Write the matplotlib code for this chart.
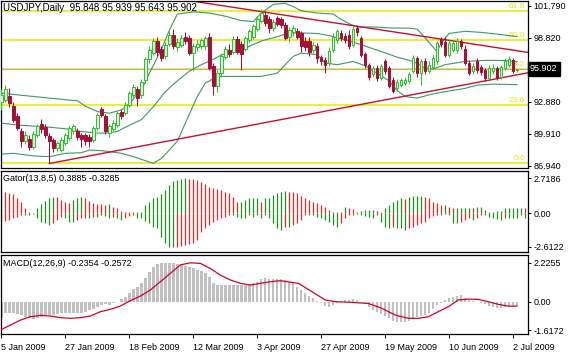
import numpy as np
import matplotlib
matplotlib.use("Agg")
import matplotlib.pyplot as plt
from matplotlib.transforms import blended_transform_factory

plt.rcParams['font.family'] = ['Liberation Sans', 'DejaVu Sans']

# daily candles, bar 0 = 5 Jan 2009
opens = [92.8, 93.0, 93.4, 92.5, 91.5, 90.1, 89.2, 89.4, 88.7, 89.8,
         90.8, 90.5, 89.7, 89.3, 88.6, 88.4, 89.0, 89.5, 90.1, 90.1,
         89.8, 89.8, 89.6, 89.3, 90.4, 92.2, 91.5, 90.0, 90.3, 90.7,
         91.9, 91.8, 92.6, 93.5, 94.0, 93.5, 94.9, 96.8, 97.4, 98.5,
         97.8, 97.1, 98.2, 99.1, 97.9, 98.1, 98.9, 98.8, 97.4, 97.9,
         98.0, 98.0, 98.9, 96.2, 94.3, 95.5, 97.0, 97.7, 97.5, 98.7,
         98.2, 97.8, 98.6, 98.9, 99.6, 100.4, 100.9, 100.5, 99.7, 100.6,
         100.5, 100.0, 98.9, 99.3, 99.4, 99.2, 98.5, 98.5, 97.7, 98.0,
         97.0, 96.7, 96.5, 97.7, 98.6, 99.2, 99.0, 99.1, 98.1, 99.7,
         98.8, 97.3, 96.3, 95.4, 96.0, 95.1, 96.6, 96.0, 94.9, 94.1,
         94.4, 94.6, 94.8, 95.7, 96.9, 95.5, 96.6, 95.7, 96.1, 96.6,
         98.7, 98.4, 97.2, 97.7, 97.7, 98.5, 97.8, 96.5, 95.7, 96.6,
         96.1, 95.8, 95.1, 95.7, 96.0, 95.2, 96.0, 96.3, 96.7, 95.848]
highs = [94.0, 94.4, 94.1, 92.8, 91.8, 90.4, 90.1, 89.8, 90.1, 90.8,
         91.3, 90.8, 90.0, 89.5, 89.2, 89.6, 90.0, 90.6, 90.8, 90.4,
         90.0, 90.0, 89.9, 90.6, 91.8, 92.4, 91.7, 90.8, 91.2, 92.0,
         92.2, 92.8, 93.9, 94.5, 94.3, 95.0, 97.0, 98.0, 98.8, 98.9,
         98.0, 98.4, 99.4, 99.6, 98.8, 99.1, 99.3, 99.1, 98.3, 98.6,
         98.8, 99.0, 99.2, 96.5, 95.8, 97.4, 98.0, 98.2, 99.0, 99.0,
         98.5, 99.0, 99.6, 100.1, 100.8, 101.44, 101.3, 100.8, 100.5, 100.8,
         100.7, 100.3, 99.8, 100.0, 99.7, 99.4, 98.9, 98.9, 98.4, 98.3,
         97.2, 97.0, 97.9, 99.2, 99.6, 99.5, 99.2, 99.5, 99.9, 100.0,
         99.0, 97.5, 96.5, 96.2, 96.3, 96.4, 96.8, 96.2, 95.2, 95.0,
         95.1, 95.2, 95.6, 97.2, 97.1, 96.8, 96.9, 96.6, 97.2, 98.5,
         98.9, 98.9, 98.6, 98.6, 98.8, 98.7, 98.1, 96.7, 96.5, 96.9,
         96.3, 96.0, 96.3, 96.4, 96.2, 96.3, 96.9, 97.1, 96.9, 95.939]
lows = [92.1, 92.8, 92.4, 91.0, 90.2, 88.7, 88.9, 88.4, 88.5, 89.6,
        90.0, 89.5, 87.13, 88.2, 88.3, 88.2, 88.8, 89.3, 89.9, 89.3,
        88.7, 88.8, 88.7, 89.1, 90.2, 91.4, 89.9, 89.6, 90.1, 90.5,
        91.3, 91.6, 92.4, 93.3, 92.5, 93.2, 94.6, 96.5, 97.2, 97.1,
        96.6, 96.8, 98.0, 97.8, 97.6, 97.9, 98.2, 97.2, 95.7, 97.6,
        97.8, 97.7, 95.8, 93.5, 93.8, 95.2, 96.8, 97.0, 97.3, 97.3,
        95.8, 97.6, 98.4, 98.7, 99.4, 100.2, 99.9, 99.2, 99.4, 99.9,
        99.7, 98.6, 98.4, 99.0, 98.7, 97.5, 97.6, 97.1, 97.4, 96.5,
        96.3, 95.5, 96.2, 97.5, 98.3, 98.5, 98.3, 97.8, 97.9, 99.0,
        97.0, 96.0, 94.9, 95.2, 94.8, 94.9, 95.4, 94.1, 93.7, 93.9,
        94.2, 94.4, 94.6, 95.5, 95.2, 94.4, 95.4, 95.5, 95.9, 96.4,
        97.9, 97.0, 97.0, 97.5, 97.4, 97.8, 96.3, 95.3, 95.4, 95.5,
        95.3, 94.8, 94.9, 95.4, 94.9, 95.0, 95.8, 96.1, 95.5, 95.643]
closes = [93.5, 94.0, 92.7, 91.2, 90.4, 89.2, 89.8, 88.7, 89.9, 90.6,
          90.3, 89.8, 89.2, 88.6, 89.0, 89.3, 89.8, 90.4, 90.6, 89.6,
          89.4, 89.2, 89.2, 90.4, 91.6, 91.6, 90.1, 90.6, 90.9, 91.8,
          91.5, 92.6, 93.7, 94.2, 93.2, 94.7, 96.8, 97.7, 98.5, 97.5,
          96.9, 98.1, 99.1, 98.0, 98.4, 98.8, 98.5, 97.4, 98.0, 98.2,
          98.6, 98.8, 96.0, 94.3, 95.5, 97.1, 97.8, 97.3, 98.7, 97.5,
          97.3, 98.8, 99.4, 99.9, 100.5, 101.1, 100.2, 99.7, 100.3, 100.1,
          100.0, 98.8, 99.5, 99.7, 98.9, 98.0, 97.9, 97.5, 98.1, 96.9,
          96.6, 96.3, 97.6, 98.9, 99.4, 98.8, 98.6, 98.0, 99.6, 99.3,
          97.2, 96.3, 95.2, 96.0, 95.1, 96.2, 95.7, 94.3, 93.9, 94.7,
          94.9, 94.9, 95.4, 96.9, 95.5, 96.6, 95.7, 96.3, 96.9, 98.3,
          98.2, 97.2, 98.3, 98.3, 98.5, 98.0, 96.5, 95.5, 96.2, 95.8,
          95.6, 95.1, 96.0, 96.0, 95.1, 96.1, 96.6, 96.8, 95.7, 95.902]

# bollinger bands (bar, price)
bb_up_x = [0, 4, 8, 12, 16, 19, 21, 24, 27, 30, 32, 35, 37, 40, 42, 44, 48, 52, 56, 60, 63, 65, 68, 71, 73,
           75, 79, 83, 85, 87, 89, 93, 98, 102, 104, 106, 109, 110, 112, 116, 120, 125, 129]
bb_up_y = [93.66, 93.5, 93.35, 93.2, 93.05, 92.95, 92.45, 91.95, 91.8, 92.1, 92.7, 93.95, 95.5, 97.7, 99.5,
           101.0, 101.2, 101.1, 100.8, 100.4, 100.3, 101.1, 101.9, 102.0, 101.7, 101.3, 101.1, 101.0, 100.5,
           100.1, 99.8, 99.8, 99.7, 99.7, 99.6, 98.8, 97.5, 98.3, 99.2, 99.4, 99.3, 99.1, 98.9]
bb_mid_x = [0, 4, 8, 12, 16, 20, 24, 26, 29, 31, 35, 38, 41, 44, 47, 50, 53, 55, 59, 62, 65, 69, 72, 75, 79,
            82, 85, 88, 92, 96, 99, 103, 106, 108, 111, 116, 121, 125, 129]
bb_mid_y = [90.87, 90.7, 90.6, 90.5, 90.35, 90.1, 89.95, 89.95, 90.1, 90.5, 91.2, 92.4, 93.8, 94.8, 95.7,
            96.3, 96.8, 97.2, 97.7, 98.0, 98.5, 98.9, 99.25, 99.25, 99.2, 99.0, 98.7, 98.4, 97.9, 97.4,
            97.0, 96.6, 96.0, 95.9, 96.3, 96.6, 96.7, 96.7, 96.6]
bb_lo_x = [0, 3, 8, 12, 16, 20, 22, 25, 27, 30, 33, 36, 38, 40, 42, 44, 46, 49, 51, 54, 60, 65, 69, 71, 73,
           75, 79, 81, 84, 88, 91, 94, 97, 99, 101, 104, 107, 111, 116, 119, 123, 129]
bb_lo_y = [88.0, 88.07, 87.83, 87.76, 88.07, 88.13, 88.38, 88.32, 88.23, 88.07, 87.76, 87.39, 87.14, 87.6,
           88.38, 89.2, 90.87, 93.35, 94.59, 95.21, 95.21, 95.21, 95.52, 96.3, 97.07, 97.38, 97.23, 96.45,
           96.3, 96.6, 96.2, 95.5, 94.8, 93.9, 93.35, 93.2, 93.5, 93.8, 94.1, 94.4, 94.5, 94.45]

# trend lines (bar, price)
trend_hi_x = [44, 131.75]
trend_hi_y = [102.42, 97.44]
trend_lo_x = [12, 131.75]
trend_lo_y = [87.13, 95.55]

fib_levels = [87.14, 92.535, 95.87, 98.57, 101.27]
fib_names = ["0.0", "23.6", "38.2", "50.0", "61.8"]
last_price = 95.902

# gator oscillator
gator_up = [1.82, 1.69, 1.61, 1.48, 1.17, 0.91, 0.44, 0.13, 0.02, 0.39, 0.70, 0.96, 1.22, 1.30, 1.27, 1.04,
            0.91, 0.78, 1.04, 1.17, 1.30, 1.17, 0.96, 0.83, 0.73, 0.70, 0.65, 0.70, 0.52, 0.39, 0.18, 0.13,
            0.08, 0.13, 0.08, 0.13, 0.65, 0.91, 1.17, 1.30, 1.48, 1.82, 2.21, 2.55, 2.62, 2.68, 2.7186, 2.70,
            2.66, 2.60, 2.45, 2.26, 2.08, 1.95, 1.90, 1.82, 1.69, 1.56, 1.30, 0.91, 0.91, 1.04, 1.17, 1.17,
            1.17, 0.91, 1.17, 1.22, 1.43, 1.56, 1.69, 1.74, 1.69, 1.64, 1.56, 1.38, 1.17, 1.04, 0.91, 0.78,
            0.65, 0.52, 0.26, 0.13, 0.13, 0.13, 0.52, 0.44, 0.34, 0.13, 0.18, 0.26, 0.26, 0.26, 0.18, 0.13,
            0.39, 0.65, 0.91, 1.04, 1.17, 1.09, 1.30, 1.38, 1.38, 1.38, 1.30, 1.17, 0.91, 0.78, 0.65, 0.65,
            0.52, 0.44, 0.44, 0.44, 0.44, 0.44, 0.39, 0.52, 0.52, 0.26, 0.13, 0.13, 0.18, 0.18, 0.39, 0.39,
            0.39, 0.39, 0.44, 0.3885]
gator_dn = [-0.65, -0.60, -0.52, -0.39, -0.26, -0.13, -0.13, -0.13, -0.08, -0.39, -0.65, -0.78, -0.91,
            -0.78, -0.52, -0.26, -0.39, -0.65, -0.70, -0.52, -0.39, -0.34, -0.39, -0.26, -0.26, -0.13,
            -0.18, -0.34, -0.26, -0.39, -0.52, -0.39, -0.18, -0.13, -0.34, -0.39, -0.60, -0.78, -1.04,
            -1.17, -1.82, -2.34, -2.60, -2.6122, -2.60, -2.52, -2.47, -2.42, -2.34, -2.08, -1.43, -1.17,
            -0.91, -0.70, -0.52, -0.39, -0.26, -0.13, -0.13, -0.26, -0.39, -0.39, -0.13, -0.26, -0.13,
            -0.34, -0.13, -0.39, -0.78, -1.17, -1.30, -1.04, -1.04, -0.91, -0.78, -0.52, -0.13, -0.13,
            -0.13, -0.26, -0.39, -0.52, -0.65, -0.91, -1.04, -0.78, -0.39, -0.13, -0.13, -0.08, -0.13,
            -0.18, -0.26, -0.34, -0.13, -0.65, -1.04, -1.17, -1.04, -1.17, -1.17, -1.30, -1.17, -1.04,
            -0.91, -0.78, -0.65, -0.39, -0.18, -0.13, -0.13, -0.08, -0.13, -0.78, -0.78, -0.65, -0.52,
            -0.39, -0.52, -0.39, -0.13, -0.13, -0.26, -0.39, -0.44, -0.52, -0.39, -0.39, -0.39, -0.39,
            -0.13, -0.3285]

# MACD main (histogram) and signal line
macd_main = [-0.95, -0.67, -0.63, -0.67, -0.70, -0.76, -0.86, -0.95, -1.01, -0.95, -0.86, -0.76, -0.76,
             -0.76, -0.72, -0.67, -0.67, -0.63, -0.63, -0.67, -0.63, -0.57, -0.48, -0.44, -0.29, -0.19,
             -0.13, -0.19, -0.10, 0.0, 0.13, 0.29, 0.48, 0.70, 0.86, 1.05, 1.33, 1.71, 2.0, 2.15, 2.2255,
             2.22, 2.22, 2.19, 2.15, 2.10, 2.04, 1.96, 1.90, 1.81, 1.77, 1.66, 1.43, 1.09, 0.95, 0.95, 0.95,
             0.95, 0.97, 0.97, 0.93, 0.93, 0.99, 1.05, 1.14, 1.28, 1.35, 1.31, 1.31, 1.31, 1.28, 1.24, 1.14,
             1.05, 0.86, 0.67, 0.51, 0.32, 0.19, 0.06, -0.10, -0.25, -0.29, -0.19, -0.06, 0.06, 0.10, 0.10,
             0.13, 0.10, 0.0, -0.13, -0.32, -0.48, -0.57, -0.70, -0.82, -0.95, -1.09, -1.14, -1.14, -1.14,
             -1.09, -0.95, -0.86, -0.82, -0.76, -0.67, -0.44, -0.19, -0.06, 0.10, 0.19, 0.25, 0.32, 0.38,
             0.19, 0.10, 0.06, 0.0, -0.06, -0.13, -0.25, -0.32, -0.38, -0.38, -0.32, -0.29, -0.25, -0.2354]
sig_x = [-0.25, 2.25, 4.75, 7.25, 9.75, 12.25, 14.75, 17.25, 19.75, 22.25, 24.75, 27.25, 29.75, 32.25,
         34.75, 37.25, 39.75, 42.25, 44.75, 47.25, 49.75, 52.25, 54.75, 57.25, 59.75, 62.25, 64.75, 67.25,
         69.75, 74.3, 77.7, 81, 83.5, 87.7, 91.8, 95.2, 98.5, 101.8, 104.3, 106.8, 109.3, 111.8, 114.3,
         116.8, 119.3, 121.8, 124.3, 126.8, 129]
sig_y = [-1.6172, -1.33, -1.05, -0.86, -0.78, -0.82, -0.91, -0.95, -0.91, -0.82, -0.57, -0.44, -0.25, 0.06,
         0.32, 0.67, 1.14, 1.62, 2.10, 2.22, 2.19, 1.90, 1.52, 1.24, 1.05, 0.95, 1.05, 1.14, 1.20, 1.05, 0.57,
         0.10, 0.0, -0.04, -0.10, -0.38, -0.76, -0.95, -0.95, -0.86, -0.57, -0.29, 0.10, 0.15, 0.13, 0.0,
         -0.15, -0.25, -0.2572]

date_pos = [0, 16, 32, 48, 64, 80, 96, 112, 128]
date_labels = ["5 Jan 2009", "27 Jan 2009", "18 Feb 2009", "12 Mar 2009", "3 Apr 2009",
               "27 Apr 2009", "19 May 2009", "10 Jun 2009", "2 Jul 2009"]

GREEN = "#2ec22e"
RED = "#a8103a"
BAND = "#3c9a62"
TREND = "#c8102e"
FIB = "#e8e800"

W, H = 570, 354
fig = plt.figure(figsize=(W / 100, H / 100), dpi=100)


def pane(y0, y1):
    a = fig.add_axes([0.5 / W, 1 - y1 / H, 527.5 / W, (y1 - y0) / H])
    for s in a.spines.values():
        s.set_linewidth(0.9)
        s.set_color("black")
    a.set_xlim(-0.25, 131.75)
    a.yaxis.tick_right()
    a.tick_params(axis="y", length=2.5, width=0.7, pad=1.5, labelsize=6.5)
    a.tick_params(axis="x", length=0)
    a.set_xticks([])
    return a


ax = pane(0.5, 168)
gx = pane(171, 252)
mx = pane(255, 334)

# ---- price pane
o = np.array(opens); h = np.array(highs); l = np.array(lows); c = np.array(closes)
idx = np.arange(len(c))
bull = c >= o

for lev, name in zip(fib_levels, fib_names):
    ax.axhline(lev, color=FIB, lw=1.1, zorder=1)
    ax.text(131.0, lev + 0.12, name, color=FIB, fontsize=6, ha="right", va="bottom", zorder=1)
ax.axhline(last_price, color="#b0b0b0", lw=0.8, zorder=1)

ax.plot(bb_up_x, bb_up_y, color=BAND, lw=0.8, zorder=2)
ax.plot(bb_mid_x, bb_mid_y, color=BAND, lw=0.8, zorder=2)
ax.plot(bb_lo_x, bb_lo_y, color=BAND, lw=0.8, zorder=2)
ax.plot(trend_hi_x, trend_hi_y, color=TREND, lw=1.0, zorder=2)
ax.plot(trend_lo_x, trend_lo_y, color=TREND, lw=1.0, zorder=2)

ax.vlines(idx[bull], l[bull], h[bull], color=GREEN, lw=0.75, zorder=3)
ax.vlines(idx[~bull], l[~bull], h[~bull], color=RED, lw=0.75, zorder=3)
ax.bar(idx[bull], np.maximum(c[bull] - o[bull], 0.05), bottom=o[bull], width=0.65,
       facecolor="#e8ffe8", edgecolor=GREEN, lw=0.75, zorder=4)
ax.bar(idx[~bull], o[~bull] - c[~bull], bottom=c[~bull], width=0.65,
       facecolor=RED, edgecolor=RED, lw=0.75, zorder=4)

ax.set_ylim(86.71, 102.26)
ax.set_yticks([101.79, 98.82, 92.88, 89.91, 86.94])
ax.set_yticklabels(["101.790", "98.820", "92.880", "89.910", "86.940"])
tr = blended_transform_factory(ax.transAxes, ax.transData)
ax.text(1.004, last_price, "95.902", transform=tr, fontsize=6.5, color="white", ha="left", va="center",
        bbox=dict(facecolor="black", edgecolor="black", pad=1.6))
ax.text(0.004, 0.985, "USDJPY,Daily  95.848 95.939 95.643 95.902", transform=ax.transAxes,
        fontsize=7, va="top", ha="left")

# ---- gator pane
gu = np.array(gator_up); gd = np.array(gator_dn)
gk = np.arange(len(gu))
up_col = ["#1d931d" if k == 0 or gu[k] >= gu[k - 1] else "#e02828" for k in gk]
dn_col = ["#1d931d" if k == 0 or gd[k] <= gd[k - 1] else "#e02828" for k in gk]
gx.vlines(gk, 0, gu, colors=up_col, lw=0.9)
gx.vlines(gk, gd, 0, colors=dn_col, lw=0.9)
gx.set_ylim(-3.02, 3.30)
gx.set_yticks([2.7186, 0, -2.6122])
gx.set_yticklabels(["2.7186", "0.00", "-2.6122"])
gx.text(0.004, 0.96, "Gator(13,8,5) 0.3885 -0.3285", transform=gx.transAxes, fontsize=6.5,
        va="top", ha="left")

# ---- macd pane
mk = np.arange(len(macd_main))
mx.bar(mk, macd_main, width=0.62, color="#c0c0c0", zorder=2)
mx.plot(sig_x, sig_y, color="#d4002a", lw=0.9, zorder=3)
mx.set_ylim(-1.845, 2.667)
mx.set_yticks([2.2255, 0, -1.6172])
mx.set_yticklabels(["2.2255", "0.00", "-1.6172"])
mx.text(0.004, 0.955, "MACD(12,26,9) -0.2354 -0.2572", transform=mx.transAxes, fontsize=6.5,
        va="top", ha="left")
mx.set_xticks(date_pos)
mx.set_xticklabels(date_labels)
mx.tick_params(axis="x", length=3, width=0.7, pad=3.5, labelsize=6.5, direction="out")
for t in mx.get_xticklabels():
    t.set_ha("left")

fig.savefig("out.png", dpi=100)
